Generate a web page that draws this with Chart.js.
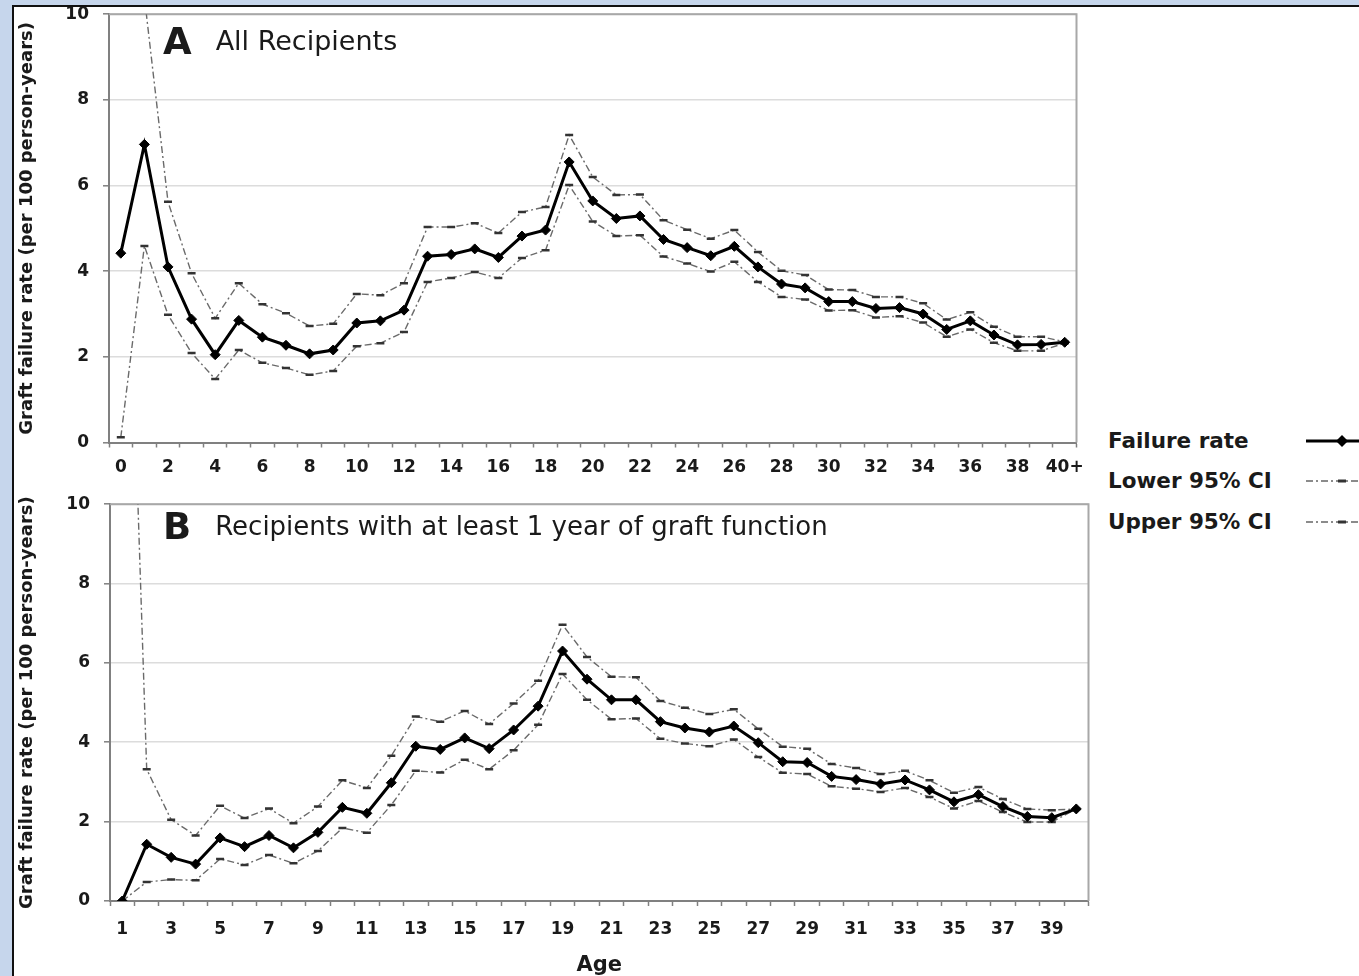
<!DOCTYPE html>
<html>
<head>
<meta charset="utf-8">
<script src="https://cdn.jsdelivr.net/npm/chart.js@4.4.1/dist/chart.umd.min.js"></script>
<style>
  html, body { margin: 0; padding: 0; }
  body { width: 1359px; height: 976px; background: #c6d6ec; position: relative; overflow: hidden;
         font-family: 'DejaVu Sans', sans-serif; color: #1a1a1a; }
  #frame { position: absolute; left: 12px; top: 5px; width: 1347px; height: 971px;
           border-left: 2px solid #111; border-top: 2px solid #111; box-sizing: border-box; }
  #sheet { position: absolute; left: 14px; top: 7px; width: 1345px; height: 969px; background: #fff; overflow: hidden; }
  canvas { position: absolute; }
  #chartA { left: 0; top: -17px; }
  #chartB { left: 0; top: 473px; }
  .panel { position: absolute; white-space: nowrap; line-height: 1; }
  .panel b { font-size: 37px; font-weight: bold; margin-right: 24px; vertical-align: -4px; }
  .panel span { font-size: 27px; }
  .legend { position: absolute; left: 1094px; font-size: 21.5px; font-weight: bold; white-space: nowrap; line-height: 1; }
  .legend svg { position: absolute; left: 190px; top: -3px; }
</style>
</head>
<body>
<div id="frame"></div>
<div id="sheet">
  <canvas id="chartA" width="1069" height="490"></canvas>
  <canvas id="chartB" width="1081" height="496"></canvas>
  <div class="panel" style="left:149px; top:16px;"><b>A</b><span>All Recipients</span></div>
  <div class="panel" style="left:149px; top:501px;"><b>B</b><span style="font-size:26px">Recipients with at least 1 year of graft function</span></div>
  <div class="legend" style="top:423px;">Failure rate
    <svg width="70" height="28"><line x1="8" y1="14" x2="70" y2="14" stroke="#000" stroke-width="3"/><path d="M44 8 L50 14 L44 20 L38 14 Z" fill="#000"/></svg></div>
  <div class="legend" style="top:463px;">Lower 95% CI
    <svg width="70" height="28"><line x1="8" y1="14" x2="70" y2="14" stroke="#666" stroke-width="1.4" stroke-dasharray="7 3 2 3"/><line x1="40" y1="14" x2="48" y2="14" stroke="#333" stroke-width="3"/></svg></div>
  <div class="legend" style="top:504px;">Upper 95% CI
    <svg width="70" height="28"><line x1="8" y1="14" x2="70" y2="14" stroke="#666" stroke-width="1.4" stroke-dasharray="7 3 2 3"/><line x1="40" y1="14" x2="48" y2="14" stroke="#333" stroke-width="3"/></svg></div>
</div>
<script>
// Age categories
const agesA = ['0','1','2','3','4','5','6','7','8','9','10','11','12','13','14','15','16','17','18','19','20',
  '21','22','23','24','25','26','27','28','29','30','31','32','33','34','35','36','37','38','39','40+'];
const agesB = ['1','2','3','4','5','6','7','8','9','10','11','12','13','14','15','16','17','18','19','20',
  '21','22','23','24','25','26','27','28','29','30','31','32','33','34','35','36','37','38','39','40'];

// Panel A: all recipients (per 100 person-years)
const rateA  = [4.42, 6.96, 4.10, 2.88, 2.05, 2.85, 2.46, 2.27, 2.07, 2.16, 2.79, 2.84, 3.09, 4.35, 4.39, 4.52, 4.32, 4.82, 4.96, 6.55,
  5.64, 5.23, 5.29, 4.74, 4.55, 4.36, 4.58, 4.10, 3.70, 3.61, 3.29, 3.29, 3.13, 3.15, 3.00, 2.64, 2.84, 2.51, 2.28, 2.29, 2.34];
const lowerA = [0.12, 4.59, 2.98, 2.09, 1.48, 2.16, 1.86, 1.74, 1.58, 1.67, 2.25, 2.32, 2.58, 3.75, 3.84, 3.98, 3.84, 4.31, 4.49, 6.01,
  5.16, 4.82, 4.84, 4.34, 4.18, 3.99, 4.22, 3.75, 3.40, 3.34, 3.08, 3.09, 2.92, 2.95, 2.80, 2.47, 2.64, 2.33, 2.14, 2.14, 2.32];
const upperA = [null, 10.4, 5.62, 3.95, 2.90, 3.72, 3.23, 3.02, 2.72, 2.77, 3.47, 3.44, 3.72, 5.03, 5.03, 5.12, 4.89, 5.38, 5.50, 7.18,
  6.20, 5.78, 5.79, 5.19, 4.97, 4.76, 4.96, 4.45, 4.01, 3.91, 3.57, 3.56, 3.40, 3.40, 3.25, 2.87, 3.04, 2.70, 2.47, 2.47, 2.35];

// Panel B: recipients with at least 1 year of graft function
const rateB  = [0.00, 1.43, 1.10, 0.93, 1.59, 1.37, 1.65, 1.34, 1.73, 2.36, 2.21, 2.98, 3.90, 3.82, 4.11, 3.84, 4.31, 4.91, 6.30, 5.59,
  5.07, 5.07, 4.52, 4.36, 4.26, 4.41, 3.99, 3.51, 3.49, 3.14, 3.06, 2.95, 3.05, 2.80, 2.50, 2.68, 2.38, 2.13, 2.10, 2.32];
const lowerB = [0.00, 0.48, 0.54, 0.52, 1.06, 0.91, 1.16, 0.95, 1.26, 1.84, 1.72, 2.42, 3.28, 3.24, 3.56, 3.32, 3.80, 4.44, 5.72, 5.07,
  4.58, 4.60, 4.09, 3.97, 3.90, 4.07, 3.63, 3.23, 3.20, 2.89, 2.83, 2.75, 2.85, 2.62, 2.33, 2.52, 2.24, 1.99, 1.99, 2.32];
const upperB = [22.0, 3.32, 2.05, 1.65, 2.40, 2.09, 2.33, 1.96, 2.38, 3.04, 2.85, 3.66, 4.65, 4.52, 4.79, 4.46, 4.98, 5.55, 6.96, 6.15,
  5.65, 5.64, 5.04, 4.87, 4.71, 4.83, 4.34, 3.89, 3.84, 3.45, 3.35, 3.20, 3.28, 3.04, 2.73, 2.87, 2.57, 2.32, 2.29, 2.32];

const yMin = 0, yMax = 10, yStep = 2;
const yTitle = 'Graft failure rate (per 100 person-years)';
const FONT = "'DejaVu Sans', sans-serif";

// Grey frame along the top and right of the plot area
const plotFrame = {
  id: 'plotFrame',
  beforeDatasetsDraw(chart) {
    const { ctx, chartArea: a } = chart;
    ctx.save();
    ctx.strokeStyle = '#a8a8a8';
    ctx.lineWidth = 2;
    ctx.beginPath();
    ctx.moveTo(a.left, a.top);
    ctx.lineTo(a.right, a.top);
    ctx.lineTo(a.right, a.bottom);
    ctx.stroke();
    ctx.restore();
  }
};

function ciSet(label, data) {
  return {
    label, data,
    borderColor: '#6a6a6a', borderWidth: 1.4, borderDash: [7, 3, 2, 3],
    pointStyle: 'line', pointRadius: 4, pointBorderWidth: 2.5,
    pointBorderColor: '#333', pointBackgroundColor: '#333',
    tension: 0, spanGaps: false
  };
}

function buildChart(id, labels, rate, lower, upper, cfg) {
  return new Chart(document.getElementById(id), {
    type: 'line',
    data: {
      labels,
      datasets: [
        { label: 'Failure rate', data: rate, borderColor: '#000', borderWidth: 3,
          pointStyle: 'rectRot', pointRadius: 5, pointBackgroundColor: '#000', pointBorderColor: '#000', pointBorderWidth: 1,
          tension: 0 },
        ciSet('Lower 95% CI', lower),
        ciSet('Upper 95% CI', upper)
      ]
    },
    options: {
      responsive: false, animation: false, devicePixelRatio: 1,
      layout: { padding: { top: cfg.padTop, right: 4, left: 0, bottom: 0 } },
      plugins: { legend: { display: false }, tooltip: { enabled: false } },
      scales: {
        x: {
          type: 'category', offset: true,
          grid: { offset: true, drawOnChartArea: false, drawTicks: true, tickLength: 5, tickColor: '#808080', tickWidth: 1.5 },
          border: { color: '#808080', width: 2 },
          ticks: {
            autoSkip: false, maxRotation: 0, minRotation: 0, padding: cfg.xPad, color: '#1a1a1a',
            font: { family: FONT, size: 17, weight: 'bold' },
            callback: function (v, i) { return i % 2 === 0 ? this.getLabelForValue(v) : ''; }
          },
          title: cfg.xTitle ? { display: true, text: cfg.xTitle, color: '#1a1a1a',
            font: { family: FONT, size: 21, weight: 'bold', lineHeight: 1 }, padding: { top: 0, bottom: 0 } } : { display: false },
          // fixed band height; labels sit inside the category slots, so no side padding
          afterFit: s => { s.height = cfg.xHeight; s.paddingLeft = 0; s.paddingRight = 0; }
        },
        y: {
          min: yMin, max: yMax,
          ticks: { stepSize: yStep, padding: 14, color: '#1a1a1a', font: { family: FONT, size: 17, weight: 'bold' } },
          grid: { color: '#dcdcdc', lineWidth: 1.6, tickLength: 6, tickColor: '#808080', tickWidth: 1.5 },
          border: { color: '#808080', width: 2 },
          title: { display: true, text: yTitle, color: '#1a1a1a',
            font: { family: FONT, size: 18, weight: 'bold', lineHeight: 1.2 }, padding: { top: 3, bottom: 0 } },
          afterFit: s => { s.width = cfg.yWidth; }
        }
      }
    },
    plugins: [plotFrame]
  });
}

buildChart('chartA', agesA, rateA, lowerA, upperA, { padTop: 24, xPad: 10, xHeight: 37.5, yWidth: 95 });
buildChart('chartB', agesB, rateB, lowerB, upperB, { padTop: 17, xPad: 13, xHeight: 75, yWidth: 96, xTitle: 'Age' });
</script>
</body>
</html>
